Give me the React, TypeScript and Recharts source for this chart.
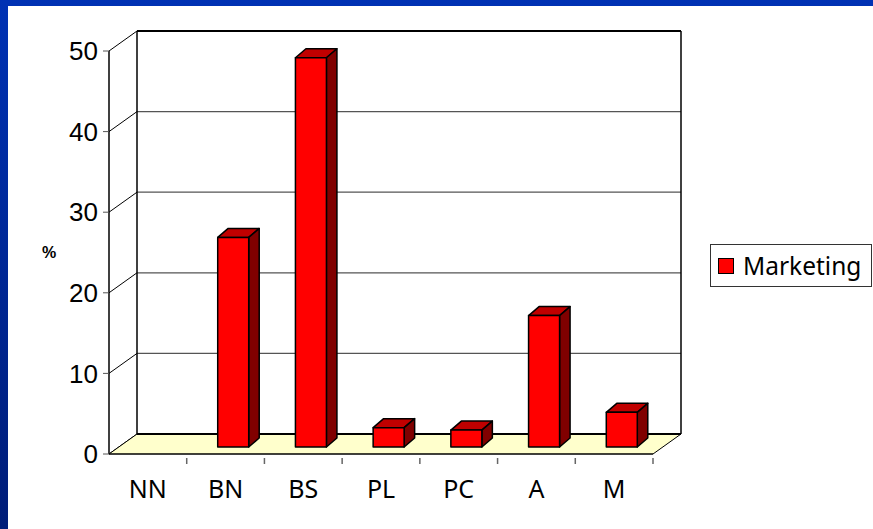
import React from 'react';
import { BarChart, Bar, XAxis, YAxis, CartesianGrid, ReferenceArea } from 'recharts';

const categories = ['NN', 'BN', 'BS', 'PL', 'PC', 'A', 'M'];
const marketing = [0, 26, 48.3, 2.4, 2.1, 16.3, 4.3];
const yTicks = [0, 10, 20, 30, 40, 50];

const data = categories.map((cat, i) => ({ cat, marketing: marketing[i] }));

// 3D look
const DX = 28; // wall depth
const DY = 20;
const SX = 8; // bar front plane offset
const SY = 7;
const TX = 10.5; // bar depth
const TY = 9;
const BAND = 544 / categories.length;

const comic = '"Comic Sans MS", "Noto Sans", sans-serif';

function Bar3D(props: any) {
  const { x, y, width, height } = props;
  if (!height || height <= 0.5 || width == null) return null;
  const fx = x + SX;
  const fy = y - SY;
  return (
    <g stroke="#000" strokeWidth={1.5} strokeLinejoin="round">
      <polygon
        points={`${fx},${fy} ${fx + TX},${fy - TY} ${fx + width + TX},${fy - TY} ${fx + width},${fy}`}
        fill="#c00000"
      />
      <polygon
        points={`${fx + width},${fy} ${fx + width + TX},${fy - TY} ${fx + width + TX},${fy + height - TY} ${fx + width},${fy + height}`}
        fill="#800000"
      />
      <rect x={fx} y={fy} width={width} height={height} fill="#ff0000" />
    </g>
  );
}

function Walls(props: any) {
  const { x, y, width, height } = props;
  const b = y + height;
  return (
    <g>
      <polygon
        points={`${x},${b} ${x + width},${b} ${x + width + DX},${b - DY} ${x + DX},${b - DY}`}
        fill="#ffffcc"
        stroke="none"
      />
      <line x1={x + DX} y1={b - DY} x2={x + width + DX} y2={b - DY} stroke="#000" strokeWidth={2} />
      <line x1={x + width} y1={b} x2={x + width + DX} y2={b - DY} stroke="#000" strokeWidth={1} />
      <line x1={x} y1={b} x2={x + DX} y2={b - DY} stroke="#000" strokeWidth={1} />
      <line x1={x + DX} y1={y - DY} x2={x + width + DX} y2={y - DY} stroke="#000" strokeWidth={2} />
      <line x1={x + DX} y1={y - DY} x2={x + DX} y2={b - DY} stroke="#000" strokeWidth={1.5} />
      <line x1={x + width + DX} y1={y - DY} x2={x + width + DX} y2={b - DY} stroke="#000" strokeWidth={1.5} />
    </g>
  );
}

function gridLine(props: any) {
  const { x1, y1, x2 } = props;
  return (
    <g key={`h-${y1}`}>
      <line x1={x1} y1={y1} x2={x1 + DX} y2={y1 - DY} stroke="#000" strokeWidth={1} />
      <line x1={x1 + DX} y1={y1 - DY} x2={x2 + DX} y2={y1 - DY} stroke="#555" strokeWidth={1.3} />
    </g>
  );
}

function CatTick(props: any) {
  const { x, y, payload } = props;
  const base = y - 4;
  return (
    <g>
      <line x1={x + BAND / 2} y1={base} x2={x + BAND / 2} y2={base + 6} stroke="#666" strokeWidth={1.5} />
      <text x={x} y={base + 40} textAnchor="middle" fontFamily={comic} fontSize={25} fill="#000">
        {payload.value}
      </text>
    </g>
  );
}

export default function App() {
  return (
    <div
      style={{
        position: 'relative',
        width: 873,
        height: 529,
        background: 'linear-gradient(to bottom, #0032b4, #001d78)',
        overflow: 'hidden',
      }}
    >
      <style>{'body{margin:0}'}</style>
      <div style={{ position: 'absolute', left: 8, top: 6, right: 0, bottom: 0, background: '#fff' }} />
      <div style={{ position: 'absolute', left: 0, top: 0 }}>
        <BarChart width={873} height={529} data={data} margin={{ top: 51, right: 220, bottom: 0, left: 0 }}>
          <ReferenceArea y1={0} y2={50} shape={<Walls />} ifOverflow="visible" />
          <CartesianGrid vertical={false} horizontal={gridLine} />
          <XAxis
            dataKey="cat"
            height={75}
            tickLine={false}
            axisLine={{ stroke: '#000', strokeWidth: 1.5 }}
            tick={<CatTick />}
            interval={0}
          />
          <YAxis
            width={109}
            domain={[0, 50]}
            ticks={yTicks}
            tickSize={6}
            tickMargin={5}
            tickLine={{ stroke: '#555' }}
            axisLine={{ stroke: '#000', strokeWidth: 1.5 }}
            tick={{ fill: '#000', fontSize: 26, fontFamily: '"Liberation Sans", Arial, sans-serif' }}
            label={{
              value: '%',
              position: 'insideLeft',
              offset: 42,
              fill: '#000',
              fontSize: 16,
              fontWeight: 'bold',
              fontFamily: '"Liberation Sans", Arial, sans-serif',
            }}
          />
          <Bar dataKey="marketing" barSize={31} fill="#ff0000" shape={<Bar3D />} isAnimationActive={false} />
        </BarChart>
      </div>
      <div
        style={{
          position: 'absolute',
          left: 710,
          top: 244,
          width: 160,
          height: 41,
          border: '1px solid #333',
          background: '#fff',
          display: 'flex',
          alignItems: 'center',
          boxSizing: 'content-box',
        }}
      >
        <span
          style={{
            display: 'inline-block',
            width: 14,
            height: 14,
            background: '#ff0000',
            border: '1.5px solid #000',
            marginLeft: 7,
            marginRight: 9,
          }}
        />
        <span style={{ fontFamily: comic, fontSize: 24.5, color: '#000' }}>Marketing</span>
      </div>
    </div>
  );
}
